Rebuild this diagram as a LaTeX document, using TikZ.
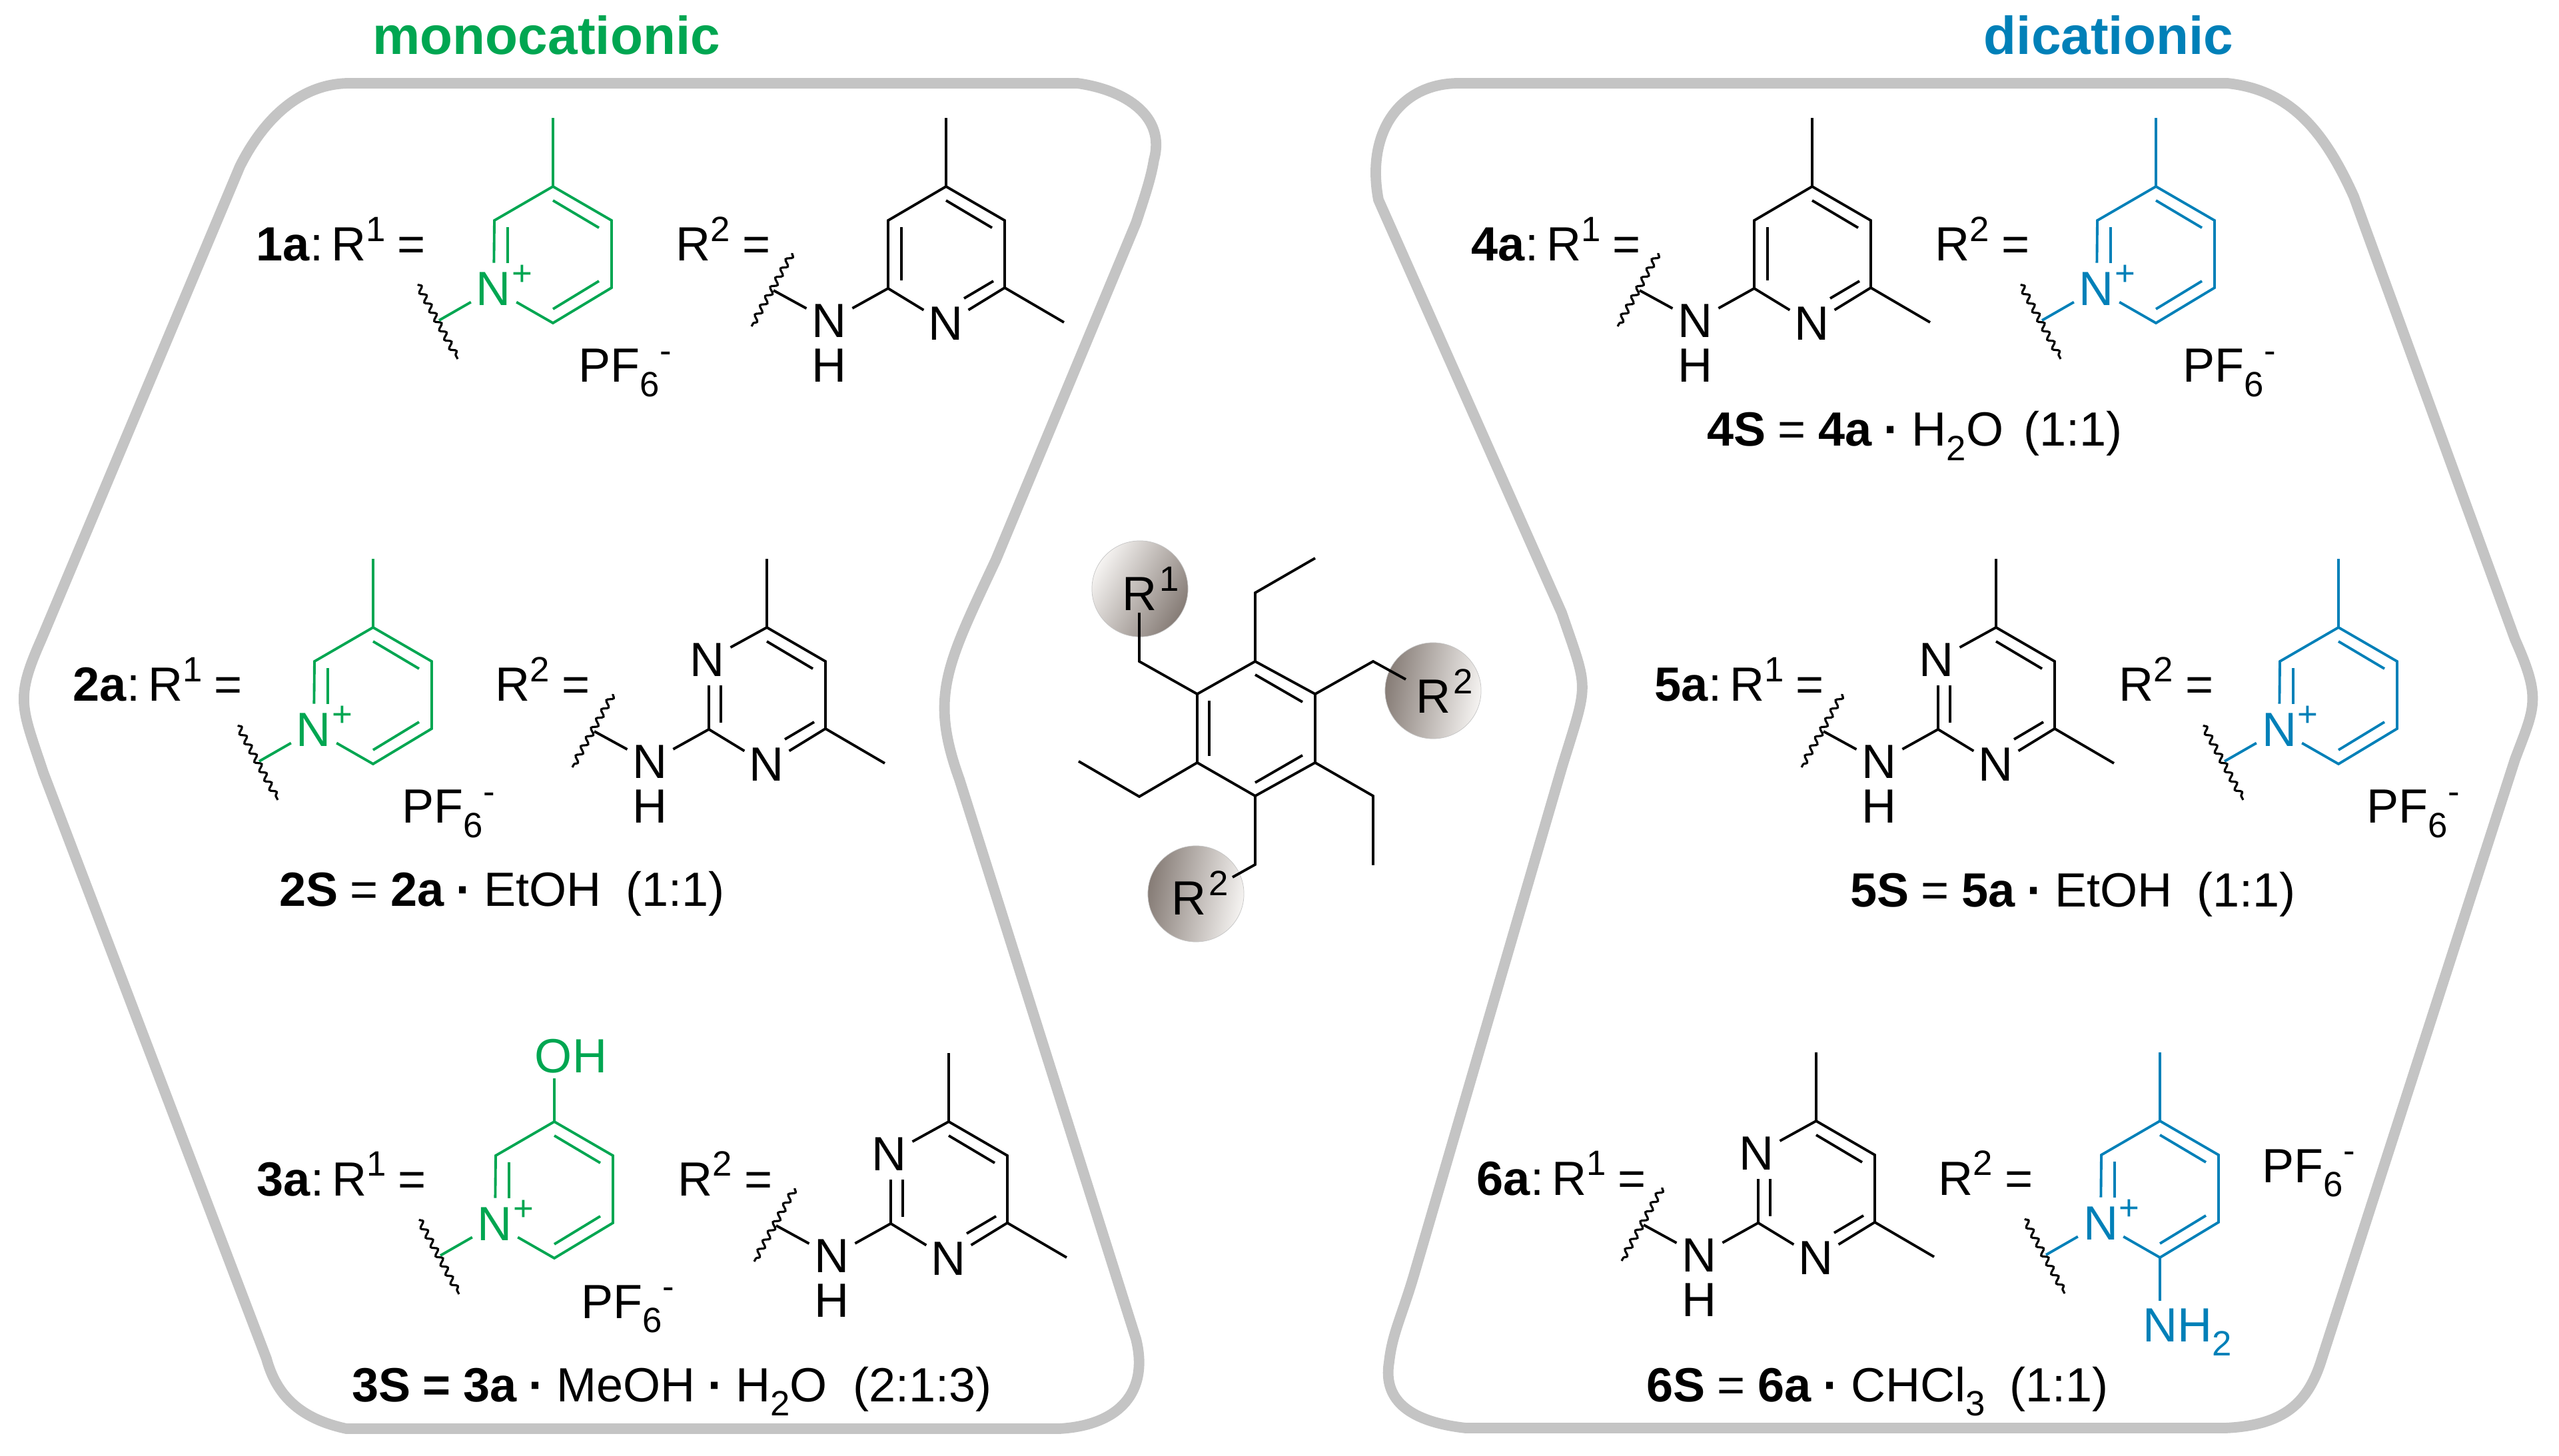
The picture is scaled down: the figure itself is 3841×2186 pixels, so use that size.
\documentclass[tikz,border=0pt]{standalone}
\usepackage{fontspec}
\setmainfont[WordSpace=.9]{Liberation Sans}
\usetikzlibrary{decorations.pathmorphing}
\definecolor{monogreen}{RGB}{0,166,81}
\definecolor{digblue}{RGB}{0,128,184}
\definecolor{framegray}{RGB}{196,196,196}
\definecolor{balldark}{RGB}{134,124,118}
\definecolor{balllight}{RGB}{245,243,241}
\newcommand{\supt}[1]{\raisebox{8.5pt}{\fontsize{15}{15}\selectfont #1}}
\newcommand{\subt}[1]{\raisebox{-6pt}{\fontsize{15}{15}\selectfont #1}}
\tikzset{
  bond/.style={line width=1.1pt, line join=miter},
  wavy/.style={black, line width=.9pt, decorate, decoration={snake, amplitude=1.2pt, segment length=4.5pt}},
  frame/.style={draw=framegray, line width=4.5pt, line join=round},
  atom/.style={circle, inner sep=0pt, minimum size=22pt},
  lbl/.style={anchor=base west, inner sep=0pt},
  chg/.style={inner sep=0pt, font=\fontsize{15}{15}\selectfont},
  ball/.style={circle, inner sep=0pt, minimum size=41pt, draw=framegray, line width=.2pt},
  mono/.style={color=monogreen},
  dig/.style={color=digblue},
  every node/.append style={font=\fontsize{20.5}{25}\selectfont}
}
% R1 or R2 ring with the cut bond, top vertex at (0,0)
\newcommand{\pyridinium}{
  \coordinate (t) at (0,0);
  \coordinate (ur) at (88,51);
  \coordinate (lr) at (88,152);
  \coordinate (bt) at (0,205);
  \coordinate (ul) at (-88,51);
  \coordinate (d1) at (-68,61);
  \coordinate (d2) at (-68,115);
  \coordinate (d3) at (0,21);
  \coordinate (d4) at (69,62);
  \coordinate (d5) at (0,184);
  \coordinate (d6) at (69,142);
  \coordinate (w1) at (-203,147);
  \coordinate (w2) at (-143,259);
  \coordinate (wm) at (-171,201);
  \node[atom] (np) at (-89,154){N};
  \node[chg] (pl) at (-46,133){+};
  \draw[bond] (np)--(ul)--(t)--(ur)--(lr)--(bt)--(np);
  \draw[bond] (d1)--(d2);
  \draw[bond] (d3)--(d4);
  \draw[bond] (d5)--(d6);
  \draw[bond] (np)--(wm);
  \draw[wavy] (w1)--(w2);
}
\newcommand{\methyl}{
  \coordinate (me) at (0,-103);
  \draw[bond] (t)--(me);
}
% part shared by both amine rings
\newcommand{\aminotail}{
  \coordinate (t) at (0,0);
  \coordinate (ur) at (88,51);
  \coordinate (cr) at (88,152);
  \coordinate (cl) at (-87,153);
  \coordinate (me2) at (177,204);
  \coordinate (d3) at (0,21);
  \coordinate (d4) at (69,62);
  \coordinate (d5) at (71,142);
  \coordinate (d6) at (27,168);
  \coordinate (w1) at (-231,100);
  \coordinate (w2) at (-292,210);
  \coordinate (wm) at (-259,156);
  \node[atom] (nr) at (0,206){N};
  \node[atom] (nh) at (-175,202){N};
  \node[atom, minimum size=10pt] (hh) at (-175,269){H};
  \draw[bond] (t)--(ur)--(cr)--(me2);
  \draw[bond] (cr)--(nr)--(cl)--(nh)--(wm);
  \draw[bond] (d3)--(d4);
  \draw[bond] (d5)--(d6);
  \draw[wavy] (w1)--(w2);
  \methyl
}
\newcommand{\lutidine}{
  \aminotail
  \coordinate (ul) at (-87,51);
  \coordinate (d1) at (-67,61);
  \coordinate (d2) at (-67,141);
  \draw[bond] (t)--(ul)--(cl);
  \draw[bond] (d1)--(d2);
}
\newcommand{\pyrimidine}{
  \aminotail
  \coordinate (d1) at (-69,87);
  \coordinate (d2) at (-69,143);
  \coordinate (d7) at (-87,87);
  \node[atom] (nu) at (-89,49){N};
  \draw[bond] (t)--(nu);
  \draw[bond] (d7)--(cl);
  \draw[bond] (d1)--(d2);
}
\begin{document}
\begin{tikzpicture}[x=.01cm, y=-.01cm]
  \useasboundingbox (0,0) rectangle (3841,2186);
  % frames
  \draw[frame] (525,125) -- (1617,125) .. controls (1690,135) and (1750,175) .. (1732,240)
    .. controls (1728,265) and (1720,290) .. (1705,335)
    -- (1495,840) .. controls (1420,1000) and (1395,1045) .. (1440,1170)
    -- (1705,2010) .. controls (1725,2090) and (1680,2140) .. (1590,2145)
    -- (520,2145) .. controls (450,2130) and (415,2095) .. (400,2040)
    -- (65,1160) .. controls (32,1060) and (22,1050) .. (62,960)
    -- (360,250) .. controls (395,180) and (450,125) .. (525,125) -- cycle;
  \draw[frame] (2190,125) -- (3343,125) .. controls (3440,135) and (3490,200) .. (3533,295)
    -- (3775,960) .. controls (3815,1050) and (3805,1060) .. (3775,1140)
    -- (3485,2040) .. controls (3465,2105) and (3430,2140) .. (3340,2144)
    -- (2200,2144) .. controls (2120,2135) and (2075,2105) .. (2085,2045)
    .. controls (2090,2000) and (2105,1975) .. (2125,1905)
    -- (2345,1150) .. controls (2385,1020) and (2385,1040) .. (2344,920)
    -- (2069,300) .. controls (2050,200) and (2100,125) .. (2190,125) -- cycle;
  \node[lbl, font=\fontsize{22.8}{25}\selectfont\bfseries, mono] (monotitle) at (559,82){monocationic};
  \node[lbl, font=\fontsize{22.8}{25}\selectfont\bfseries, dig] (dititle) at (2977,82){dicationic};
  % centre
  \begin{scope}
    \node[ball, left color=balllight, right color=balldark, shading angle=60] (ball1) at (1711,884){};
    \node[ball, left color=balldark, right color=balllight, shading angle=80] (ball2) at (2151,1037){};
    \node[ball, left color=balldark, right color=balllight, shading angle=80] (ball3) at (1795,1342){};
    \coordinate (c1) at (1884,993);
    \coordinate (c2) at (1974,1042);
    \coordinate (c3) at (1974,1145);
    \coordinate (c4) at (1884,1195);
    \coordinate (c5) at (1797,1145);
    \coordinate (c6) at (1797,1042);
    \coordinate (i1) at (1815,1052);
    \coordinate (i2) at (1815,1135);
    \coordinate (i3) at (1884,1013);
    \coordinate (i4) at (1955,1054);
    \coordinate (i5) at (1884,1175);
    \coordinate (i6) at (1955,1134);
    \coordinate (e1) at (1884,890);
    \coordinate (e2) at (1974,838);
    \coordinate (e3) at (2061,1195);
    \coordinate (e4) at (2061,1299);
    \coordinate (e5) at (1710,1196);
    \coordinate (e6) at (1619,1143);
    \coordinate (a1) at (1710,993);
    \coordinate (a2) at (1710,920);
    \coordinate (a3) at (2061,993);
    \coordinate (a4) at (2110,1020);
    \coordinate (a5) at (1884,1298);
    \coordinate (a6) at (1850,1317);
    \draw[bond] (c1)--(c2)--(c3)--(c4)--(c5)--(c6)--cycle;
    \draw[bond] (i1)--(i2);
    \draw[bond] (i3)--(i4);
    \draw[bond] (i5)--(i6);
    \draw[bond] (c1)--(e1)--(e2);
    \draw[bond] (c3)--(e3)--(e4);
    \draw[bond] (c5)--(e5)--(e6);
    \draw[bond] (c6)--(a1)--(a2);
    \draw[bond] (c2)--(a3)--(a4);
    \draw[bond] (c4)--(a5)--(a6);
    \node[lbl] (r1) at (1684,917){R\hspace{1pt}\supt{1}};
    \node[lbl] (r2) at (2125,1071){R\hspace{1pt}\supt{2}};
    \node[lbl] (r3) at (1758,1374){R\hspace{1pt}\supt{2}};
  \end{scope}
  % 1a
  \node[lbl] (lab1) at (384,392){\textbf{1a}:\,R\supt{1} =};
  \begin{scope}[shift={(830,280)}, mono]
    \pyridinium
    \methyl
  \end{scope}
  \node[lbl] (pf1) at (868,574){PF\subt{6}\supt{-}};
  \node[lbl] (lbr1) at (1014,392){R\supt{2} =};
  \begin{scope}[shift={(1420,280)}]
    \lutidine
  \end{scope}
  % 2a
  \node[lbl] (lab2) at (109,1053){\textbf{2a}:\,R\supt{1} =};
  \begin{scope}[shift={(560,942)}, mono]
    \pyridinium
    \methyl
  \end{scope}
  \node[lbl] (pf2) at (603,1236){PF\subt{6}\supt{-}};
  \node[lbl] (lbr2) at (743,1053){R\supt{2} =};
  \begin{scope}[shift={(1151,942)}]
    \pyrimidine
  \end{scope}
  \node[lbl] (cap2) at (419,1361){\textbf{2S} = \textbf{2a} \textbf{·} EtOH\ \ (1:1)};
  % 3a
  \node[lbl] (lab3) at (385,1795){\textbf{3a}:\,R\supt{1} =};
  \begin{scope}[shift={(832,1684)}, mono]
    \pyridinium
    \node[anchor=base, inner sep=0pt] (oh) at (25,-73){OH};
    \coordinate (ohb) at (0,-65);
    \draw[bond] (t)--(ohb);
  \end{scope}
  \node[lbl] (pf3) at (872,1979){PF\subt{6}\supt{-}};
  \node[lbl] (lbr3) at (1017,1795){R\supt{2} =};
  \begin{scope}[shift={(1424,1684)}]
    \pyrimidine
  \end{scope}
  \node[lbl] (cap3) at (528,2104){\textbf{3S = 3a} \textbf{·} MeOH \textbf{·} H\subt{2}O\ \hspace{6pt}(2:1:3)};
  % 4a
  \node[lbl] (lab4) at (2208,392){\textbf{4a}:\,R\supt{1} =};
  \begin{scope}[shift={(2720,280)}]
    \lutidine
  \end{scope}
  \node[lbl] (lbr4) at (2904,392){R\supt{2} =};
  \begin{scope}[shift={(3236,280)}, dig]
    \pyridinium
    \methyl
  \end{scope}
  \node[lbl] (pf4) at (3276,574){PF\subt{6}\supt{-}};
  \node[lbl] (cap4) at (2562,670){\textbf{4S} = \textbf{4a} \textbf{·} H\subt{2}O\hspace{8.5pt}(1:1)};
  % 5a
  \node[lbl] (lab5) at (2483,1053){\textbf{5a}:\,R\supt{1} =};
  \begin{scope}[shift={(2996,942)}]
    \pyrimidine
  \end{scope}
  \node[lbl] (lbr5) at (3180,1053){R\supt{2} =};
  \begin{scope}[shift={(3510,942)}, dig]
    \pyridinium
    \methyl
  \end{scope}
  \node[lbl] (pf5) at (3552,1236){PF\subt{6}\supt{-}};
  \node[lbl] (cap5) at (2777,1362){\textbf{5S} = \textbf{5a} \textbf{·} EtOH\ \ (1:1)};
  % 6a
  \node[lbl] (lab6) at (2216,1794){\textbf{6a}:\,R\supt{1} =};
  \begin{scope}[shift={(2726,1683)}]
    \pyrimidine
  \end{scope}
  \node[lbl] (lbr6) at (2909,1794){R\supt{2} =};
  \begin{scope}[shift={(3242,1683)}, dig]
    \pyridinium
    \methyl
    \coordinate (nb) at (0,270);
    \node[lbl] (nh2) at (-26,331){NH\subt{2}};
    \draw[bond] (bt)--(nb);
  \end{scope}
  \node[lbl] (pf6) at (3395,1775){PF\subt{6}\supt{-}};
  \node[lbl] (cap6) at (2471,2104){\textbf{6S} = \textbf{6a} \textbf{·} CHCl\subt{3}\ \ (1:1)};
\end{tikzpicture}
\end{document}
